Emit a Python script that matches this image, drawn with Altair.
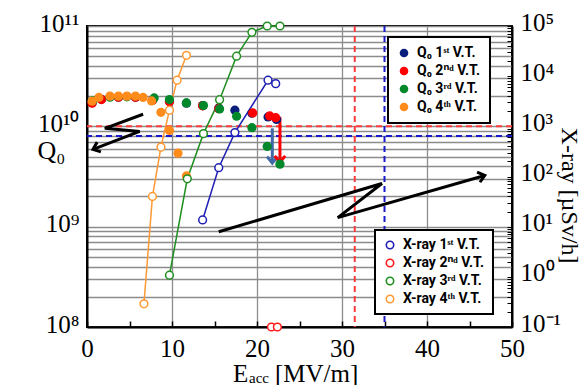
import altair as alt
import pandas as pd

# ---------------- series labels & colours ----------------
Q0_SERIES = ["Q\u2080 1\u02e2\u1d57  V.T.", "Q\u2080 2\u207f\u1d48 V.T.",
             "Q\u2080 3\u02b3\u1d48 V.T.", "Q\u2080 4\u1d57\u02b0 V.T."]
XR_SERIES = ["X-ray 1\u02e2\u1d57  V.T.", "X-ray 2\u207f\u1d48 V.T.",
             "X-ray 3\u02b3\u1d48 V.T.", "X-ray 4\u1d57\u02b0 V.T."]
Q0_COLORS = ["#0a1f7d", "#ff0000", "#00882b", "#ff8c1a"]
XR_COLORS = ["#1f1fb4", "#ff1a1a", "#1f8f1f", "#ff9933"]

# ---------------- Q0 data (Eacc [MV/m], Q0) ----------------
E_Q0_1 = [0.6, 1.7, 3.7, 5.7, 7.7, 9.7, 11.7, 13.6, 15.5, 17.4, 19.4, 21.3, 22.3]
Q0_1 = [1.72e10, 1.86e10, 1.95e10, 1.95e10, 1.82e10, 1.78e10, 1.70e10, 1.61e10,
        1.52e10, 1.45e10, 1.35e10, 1.24e10, 1.17e10]
E_Q0_2 = [0.6, 1.7, 3.7, 5.7, 7.7, 9.7, 13.6, 15.5, 19.5, 21.5, 22.2]
Q0_2 = [1.70e10, 1.85e10, 1.95e10, 1.95e10, 1.82e10, 1.76e10, 1.60e10, 1.50e10,
        1.36e10, 1.27e10, 1.22e10]
E_Q0_3 = [0.7, 2.7, 4.7, 7.9, 9.7, 11.7, 13.7, 15.6, 17.6, 19.4, 21.2, 22.7]
Q0_3 = [1.80e10, 1.95e10, 1.97e10, 1.92e10, 1.85e10, 1.71e10, 1.61e10, 1.49e10,
        1.26e10, 9.7e9, 6.3e9, 4.2e9]
E_Q0_4 = [0.6, 1.4, 2.7, 3.7, 4.7, 5.7, 6.6, 7.6, 8.7, 9.7, 10.7, 11.7]
Q0_4 = [1.78e10, 1.94e10, 2.0e10, 2.0e10, 2.0e10, 2.0e10, 1.94e10, 1.79e10,
        1.38e10, 9.1e9, 5.4e9, 3.2e9]

# ---------------- X-ray data (Eacc [MV/m], uSv/h) ----------------
E_XR_1 = [13.6, 15.5, 17.4, 21.3, 22.2]
XR_1 = [13.6, 150, 750, 8300, 7100]
E_XR_2 = [21.7, 22.4]
XR_2 = [0.1, 0.1]
E_XR_3 = [9.7, 11.8, 13.7, 15.6, 17.6, 19.4, 21.2, 22.7]
XR_3 = [1.08, 90, 715, 3400, 25000, 75000, 100000, 100000]
E_XR_4 = [6.7, 7.7, 8.7, 9.7, 10.6, 11.7]
XR_4 = [0.29, 40, 385, 2100, 8300, 26000]

# ---------------- ILC specification lines ----------------
SPEC_E = [31.5, 35.0]
SPEC_Q0 = [1.0e10, 8.0e9]
SPEC_COL = ["#ff3b3b", "#1a1acc"]

# ---------------- annotation arrows ----------------
ZZ_ID = ["left"] * 4 + ["right"] * 4
ZZ_E = [6.6, 2.1, 6.2, 0.7, 15.5, 34.7, 29.5, 46.8]
ZZ_Q0 = [1.32e10, 9.55e9, 8.9e9, 5.9e9, 8.9e8, 2.69e9, 1.23e9, 3.24e9]

DROP_E = [21.8, 22.7]
DROP_FROM = [9.55e9, 1.23e10]
DROP_TO = [4.3e9, 4.37e9]
DROP_COL = ["#4169a8", "#ff0000"]

HEAD_E = [0.7, 46.8, 21.8, 22.7]
HEAD_Q0 = [5.9e9, 3.24e9, 4.3e9, 4.37e9]
HEAD_ANGLE = [249, 74, 180, 180]
HEAD_COL = ["black", "black", "#4169a8", "#ff0000"]

# ---------------- axis ticks ----------------
X_TICKS = [0, 5, 10, 15, 20, 25, 30, 35, 40, 45, 50]
Q_TICKS = [m * 10 ** e for e in (8, 9, 10) for m in range(1, 10)] + [10 ** 11]
XR_TICKS = [round(m * 10.0 ** e, 6) for e in range(-1, 5) for m in range(1, 10)] + [100000]

Q_LABELS = "datum.value === 1e8 ? '10\u2078' : datum.value === 1e9 ? '10\u2079' : datum.value === 1e10 ? '10\u00b9\u2070' : datum.value === 1e11 ? '10\u00b9\u00b9' : ''"
XR_LABELS = ("datum.value === 0.1 ? '10\u207b\u00b9' : datum.value === 1 ? '10\u2070' : "
             "datum.value === 10 ? '10\u00b9' : datum.value === 100 ? '10\u00b2' : "
             "datum.value === 1000 ? '10\u00b3' : datum.value === 10000 ? '10\u2074' : "
             "datum.value === 100000 ? '10\u2075' : ''")

# ---------------- tables ----------------
def long(es, vs, names, field):
    rows = []
    for e_list, v_list, name in zip(es, vs, names):
        for i, (e, v) in enumerate(zip(e_list, v_list)):
            rows.append({"E": e, field: v, "series": name, "i": i})
    return pd.DataFrame(rows)

q0_df = long([E_Q0_1, E_Q0_2, E_Q0_3, E_Q0_4], [Q0_1, Q0_2, Q0_3, Q0_4], Q0_SERIES, "Q0")
xr_df = long([E_XR_1, E_XR_2, E_XR_3, E_XR_4], [XR_1, XR_2, XR_3, XR_4], XR_SERIES, "XR")
spec_h = pd.DataFrame({"Q0": SPEC_Q0, "col": SPEC_COL})
spec_v = pd.DataFrame({"E": SPEC_E, "col": SPEC_COL})
zz_df = pd.DataFrame({"E": ZZ_E, "Q0": ZZ_Q0, "id": ZZ_ID, "i": list(range(len(ZZ_E)))})
drop_df = pd.DataFrame({"E": DROP_E, "Q0": DROP_FROM, "Q0b": DROP_TO, "col": DROP_COL})
head_df = pd.DataFrame({"E": HEAD_E, "Q0": HEAD_Q0, "ang": HEAD_ANGLE, "col": HEAD_COL})
one = pd.DataFrame({"k": [0]})

SERIF = "Liberation Serif"
SANS = "Roboto"

x_scale = alt.Scale(domain=[0, 50], nice=False, zero=False)
x_axis = alt.Axis(values=X_TICKS, labelExpr="datum.value % 10 === 0 ? datum.label : ''",
                  grid=True,
                  gridOpacity={"condition": {"test": "datum.value % 10 === 0 && datum.value > 0 && datum.value < 50", "value": 1}, "value": 0},
                  gridColor="#8c8c8c", gridWidth=1.3,
                  ticks=True, tickSize={"expr": "-6"}, tickColor="black", tickWidth=1.5,
                  domainColor="black", domainWidth=2,
                  labelFont=SERIF, labelFontSize=25, labelColor="black", labelPadding=15,
                  labelFlush=False, labelOverlap=False, title=None)

q_scale = alt.Scale(type="log", domain=[1e8, 1e11], nice=False)
q_axis = alt.Axis(orient="left", values=Q_TICKS, labelExpr=Q_LABELS, grid=True,
                  gridColor="#8c8c8c", gridWidth=1.3, ticks=False,
                  domainColor="black", domainWidth=2,
                  labelFont=SERIF, labelFontSize=25, labelColor="black", labelPadding=8,
                  labelBaseline="middle", labelOffset=-3, labelFlush=False, labelOverlap=False,
                  title="Q\u2080", titleAngle=0, titleX=-36, titleY=124, titleAlign="center",
                  titleBaseline="middle", titleFont=SERIF, titleFontSize=26,
                  titleFontWeight="normal", titleColor="black")

r_scale = alt.Scale(type="log", domain=[0.1, 1e5], nice=False)
r_axis = alt.Axis(orient="right", values=XR_TICKS, labelExpr=XR_LABELS, grid=False,
                  ticks=True, tickSize={"expr": "-5"}, tickColor="black", tickWidth=1,
                  domainColor="black", domainWidth=2,
                  labelFont=SERIF, labelFontSize=25, labelColor="black", labelPadding=13,
                  labelBaseline="middle", labelOffset=-4, labelFlush=False, labelOverlap=False,
                  title="X-ray [\u00b5Sv/h]", titleAngle=90, titleX=56, titleY=169,
                  titleAlign="center", titleBaseline="middle", titleFont=SERIF,
                  titleFontSize=24, titleFontWeight="normal", titleColor="black")

X = lambda: alt.X("E:Q", scale=x_scale, axis=x_axis)
QY = lambda ax=True: alt.Y("Q0:Q", scale=q_scale, axis=q_axis if ax else None)
RY = lambda ax=True: alt.Y("XR:Q", scale=r_scale, axis=r_axis if ax else None)

CHEVRON = "M -0.8 1 L 0 0 L 0.8 1"

# ---------------- base group (Q0 axis) ----------------
hrules = alt.Chart(spec_h).mark_rule(strokeDash=[6, 4], strokeWidth=2).encode(
    y=QY(), color=alt.Color("col:N", scale=None))
vrules = alt.Chart(spec_v).mark_rule(strokeDash=[6, 4], strokeWidth=2).encode(
    x=X(), color=alt.Color("col:N", scale=None))
zigzag = alt.Chart(zz_df).mark_line(color="black", strokeWidth=3).encode(
    x=X(), y=QY(), detail="id:N", order="i:Q")
drops = alt.Chart(drop_df).mark_rule(strokeWidth=3).encode(
    x=X(), y=QY(), y2="Q0b:Q", color=alt.Color("col:N", scale=None))
heads = alt.Chart(head_df).mark_point(shape=CHEVRON, filled=False, strokeWidth=3,
                                      size=170, opacity=1).encode(
    x=X(), y=QY(), angle=alt.Angle("ang:Q", scale=None), color=alt.Color("col:N", scale=None))

t_E = alt.Chart(one).mark_text(text="E", font=SERIF, fontSize=25, align="left",
                               baseline="alphabetic", color="black").encode(
    x=alt.value(146), y=alt.value(356))
t_acc = alt.Chart(one).mark_text(text="acc", font=SERIF, fontSize=15, align="left",
                                 baseline="alphabetic", color="black").encode(
    x=alt.value(162), y=alt.value(357))
t_unit = alt.Chart(one).mark_text(text="[MV/m]", font=SERIF, fontSize=25, align="left",
                                  baseline="alphabetic", color="black").encode(
    x=alt.value(188), y=alt.value(356))

base = alt.layer(hrules, vrules, zigzag, drops, heads, t_E, t_acc, t_unit)

# ---------------- X-ray lines ----------------
xr_legend = alt.Legend(title=None, orient="none", legendX=288, legendY=204, direction="vertical",
                       symbolType="circle", symbolSize=55, symbolFillColor="white",
                       symbolStrokeWidth=1.6, labelFont=SANS, labelFontWeight="bold",
                       labelFontSize=14, labelColor="black", padding=8, rowPadding=4,
                       labelOffset=6, fillColor="white", strokeColor="black")
xr_stroke = alt.Stroke("series:N", scale=alt.Scale(domain=XR_SERIES, range=XR_COLORS),
                       legend=xr_legend)

xr_lines = alt.Chart(xr_df).mark_line(strokeWidth=1.5).encode(
    x=X(), y=RY(), stroke=xr_stroke, detail="series:N", order="i:Q")

# ---------------- Q0 points ----------------
q_legend = alt.Legend(title=None, orient="none", legendX=301, legendY=11, direction="vertical",
                      symbolType="circle", symbolSize=75, symbolStrokeWidth=0,
                      labelFont=SANS, labelFontWeight="bold", labelFontSize=14,
                      labelColor="black", padding=9, rowPadding=4, labelOffset=6,
                      fillColor="white", strokeColor="black")
q0_pts = alt.Chart(q0_df).mark_circle(size=85, opacity=1).encode(
    x=X(), y=QY(False),
    fill=alt.Fill("series:N", scale=alt.Scale(domain=Q0_SERIES, range=Q0_COLORS), legend=q_legend))

# ---------------- X-ray points ----------------
xr_pts = alt.Chart(xr_df).mark_point(shape="circle", filled=True, fill="white", size=60,
                                     strokeWidth=1.5, opacity=1).encode(
    x=X(), y=RY(False), stroke=xr_stroke)

chart = alt.layer(base, xr_lines, q0_pts, xr_pts).resolve_scale(
    y="independent"
).properties(
    width=425, height=301,
    padding={"left": 87, "top": 26, "right": 75, "bottom": 58},
    autosize=alt.AutoSizeParams(type="none"),
).configure_view(
    stroke="black", strokeWidth=2
).configure_legend(
    strokeWidth=2
)

chart.save("out.html", embed_options={"renderer": "svg", "actions": False})
